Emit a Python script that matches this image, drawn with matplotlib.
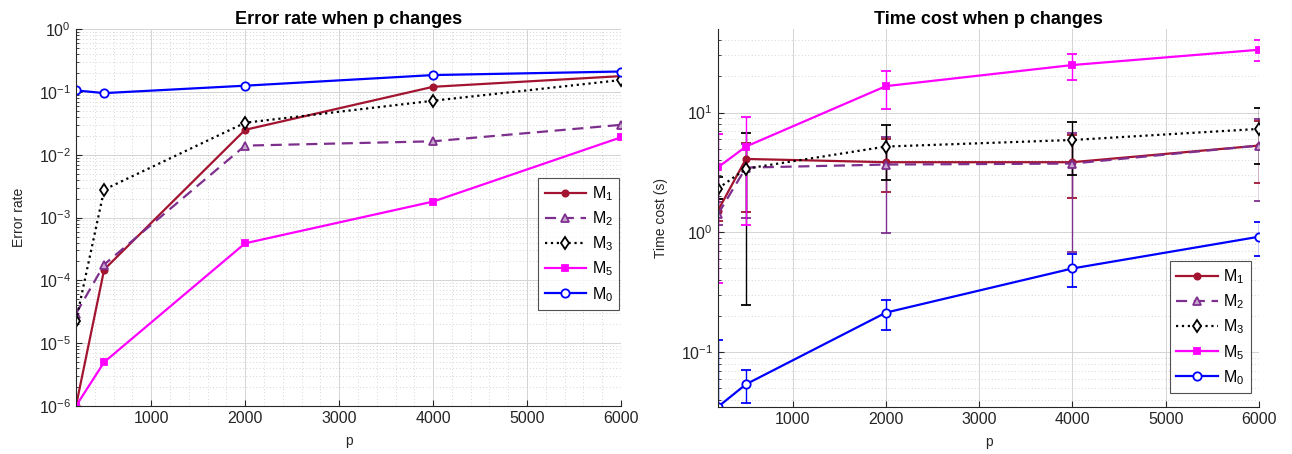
import matplotlib
matplotlib.use("Agg")
import matplotlib.pyplot as plt
import numpy as np
from matplotlib.ticker import LogLocator, MultipleLocator, FixedLocator, NullFormatter
from matplotlib.lines import Line2D

plt.rcParams['font.family'] = ['Liberation Sans', 'DejaVu Sans']
plt.rcParams['mathtext.fontset'] = 'custom'
plt.rcParams['mathtext.rm'] = 'Liberation Sans'
plt.rcParams['mathtext.it'] = 'Liberation Sans:italic'
plt.rcParams['mathtext.bf'] = 'Liberation Sans:bold'

# ---------------- data ----------------
p = [200, 500, 2000, 4000, 6000]
labels = [r'M$_1$', r'M$_2$', r'M$_3$', r'M$_5$', r'M$_0$']

err_M1 = [1e-6, 1.49e-4, 0.025, 0.121, 0.179]
err_M2 = [2.95e-5, 1.79e-4, 0.014, 0.0164, 0.030]
err_M3 = [2.25e-5, 2.79e-3, 0.0324, 0.0726, 0.155]
err_M5 = [1e-6, 5.0e-6, 3.9e-4, 1.8e-3, 0.019]
err_M0 = [0.106, 0.096, 0.126, 0.186, 0.212]

time_M1 = [1.52, 4.1, 3.85, 3.85, 5.3]
time_M2 = [1.42, 3.47, 3.68, 3.75, 5.3]
time_M3 = [2.32, 3.4, 5.2, 5.9, 7.3]
time_M5 = [3.49, 5.2, 16.6, 24.9, 33.4]
time_M0 = [0.035, 0.054, 0.214, 0.50, 0.92]

low_M1 = [1.25, 1.48, 2.19, 1.93, 2.57]
up_M1 = [1.9, 5.6, 6.0, 6.5, 8.5]
low_M2 = [1.15, 1.33, 0.99, 0.69, 1.83]
up_M2 = [1.8, 5.5, 6.2, 6.75, 8.8]
low_M3 = [1.9, 0.25, 2.72, 3.0, 3.7]
up_M3 = [2.9, 6.7, 7.8, 8.4, 11.0]
low_M5 = [0.38, 1.16, 10.7, 18.6, 26.9]
up_M5 = [6.59, 9.14, 22.4, 30.9, 40.2]
low_M0 = [0.02, 0.0377, 0.154, 0.35, 0.63]
up_M0 = [0.127, 0.071, 0.275, 0.655, 1.23]

# ---------------- styles ----------------
styles = [
    dict(color='#A2142F', linestyle='-', marker='o', markersize=4.5, markerfacecolor='#A2142F'),
    dict(color='#7E2F8E', linestyle=(0, (5, 3)), marker='^', markersize=6, markerfacecolor='#C9A8D0'),
    dict(color='black', linestyle=':', marker='d', markersize=6, markerfacecolor='white'),
    dict(color='#FF00FF', linestyle='-', marker='s', markersize=4.5, markerfacecolor='#FF00FF'),
    dict(color='#0000FF', linestyle='-', marker='o', markersize=6, markerfacecolor='white'),
]
lw = 1.6
axcol = '#262626'
tick_fs = 11.5

fig = plt.figure(figsize=(12.92, 4.54), dpi=100)
ax1 = fig.add_axes([0.0588, 0.1057, 0.4219, 0.830])
ax2 = fig.add_axes([0.5557, 0.1035, 0.4188, 0.8325])


def style_axes(ax, xminor):
    for s in ['top', 'right']:
        ax.spines[s].set_visible(False)
    for s in ['left', 'bottom']:
        ax.spines[s].set_color(axcol)
        ax.spines[s].set_linewidth(0.8)
    ax.tick_params(which='both', direction='in', colors=axcol, labelsize=tick_fs)
    ax.tick_params(which='major', length=4)
    ax.tick_params(which='minor', length=2)
    ax.set_xlim(200, 6000)
    ax.xaxis.set_major_locator(FixedLocator([1000, 2000, 3000, 4000, 5000, 6000]))
    ax.grid(True, which='major', color='#d4d4d4', linewidth=0.7)
    ax.grid(True, which='minor', axis='y', color='#c8c8c8', linestyle=(0, (1, 3)), linewidth=0.6)
    if xminor:
        ax.xaxis.set_minor_locator(MultipleLocator(200))
        ax.xaxis.set_minor_formatter(NullFormatter())
        ax.tick_params(axis='x', which='minor', length=0)
        ax.grid(True, which='minor', axis='x', color='#c8c8c8', linestyle=(0, (1, 3)), linewidth=0.6)
    ax.set_axisbelow(True)


def add_legend(ax, anchor, loc):
    handles = [Line2D([], [], linewidth=lw, markeredgewidth=1.3, **st) for st in styles]
    leg = ax.legend(handles, labels, loc=loc, bbox_to_anchor=anchor, fontsize=11.5, frameon=True,
                    fancybox=False, edgecolor=axcol, handlelength=2.6, labelspacing=0.4,
                    borderpad=0.4, handletextpad=0.35, borderaxespad=0)
    leg.get_frame().set_linewidth(0.8)
    return leg


# ---------------- left: error rate ----------------
err_series = [err_M1, err_M2, err_M3, err_M5, err_M0]
for ys, st, lab in zip(err_series, styles, labels):
    ax1.plot(p, ys, linewidth=lw, label=lab, markeredgewidth=1.3, **st)
ax1.set_yscale('log')
ax1.set_ylim(1e-6, 1)
ax1.yaxis.set_major_locator(LogLocator(base=10, numticks=10))
ax1.yaxis.set_minor_locator(LogLocator(base=10, subs=np.arange(2, 10), numticks=100))
ax1.yaxis.set_minor_formatter(NullFormatter())
style_axes(ax1, True)
ax1.set_title('Error rate when p changes', fontsize=13, fontweight='bold', pad=4)
ax1.set_xlabel('p', fontsize=10, color=axcol, labelpad=6)
ax1.set_ylabel('Error rate', fontsize=10, color=axcol, labelpad=9)
add_legend(ax1, (0.997, 0.255), 'lower right')

# ---------------- right: time cost ----------------
time_series = [time_M1, time_M2, time_M3, time_M5, time_M0]
lows = [low_M1, low_M2, low_M3, low_M5, low_M0]
ups = [up_M1, up_M2, up_M3, up_M5, up_M0]
for ys, lo, hi, st, lab in zip(time_series, lows, ups, styles, labels):
    ys_a = np.array(ys)
    yerr = np.vstack([ys_a - np.array(lo), np.array(hi) - ys_a])
    ax2.errorbar(p, ys, yerr=yerr, linewidth=lw, elinewidth=1.0, capsize=3.5, capthick=1.0,
                 label=lab, markeredgewidth=1.3, **st)
ax2.set_yscale('log')
ax2.set_ylim(0.0349, 49.7)
ax2.yaxis.set_major_locator(LogLocator(base=10, numticks=10))
ax2.yaxis.set_minor_locator(LogLocator(base=10, subs=np.arange(2, 10), numticks=100))
ax2.yaxis.set_minor_formatter(NullFormatter())
style_axes(ax2, False)
ax2.set_title('Time cost when p changes', fontsize=13, fontweight='bold', pad=4)
ax2.set_xlabel('p', fontsize=10, color=axcol, labelpad=6)
ax2.set_ylabel('Time cost (s)', fontsize=10, color=axcol, labelpad=9)
add_legend(ax2, (0.985, 0.037), 'lower right')

fig.savefig('out.png', dpi=100)
